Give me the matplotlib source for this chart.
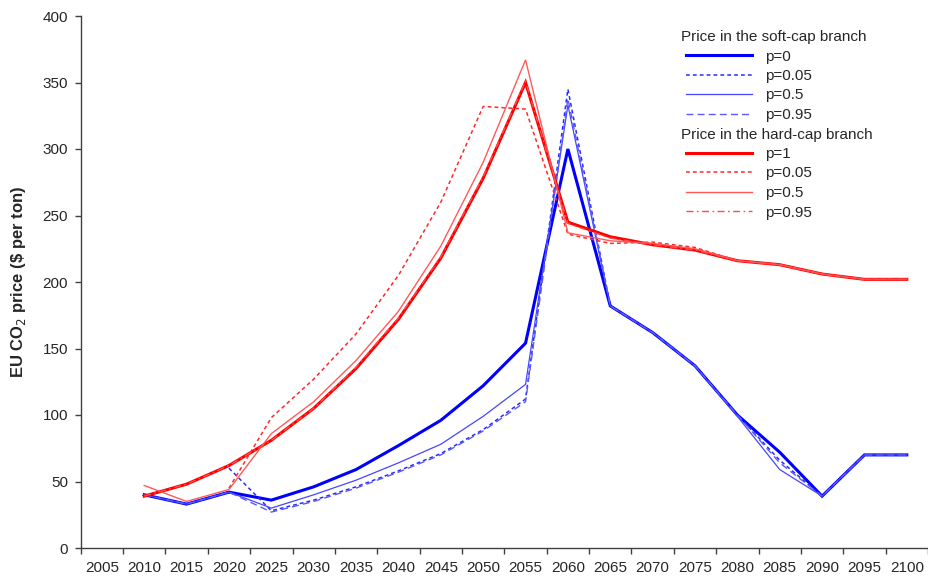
import numpy as np
import matplotlib
matplotlib.use("Agg")
import matplotlib.pyplot as plt
from matplotlib.lines import Line2D

plt.rcParams['font.family'] = ['Liberation Sans', 'DejaVu Sans']

nan = np.nan

# Category axis: 2005 ... 2100 in five-year steps
categories = list(range(2005, 2101, 5))
years = list(range(2010, 2101, 5))

# Soft-cap branch prices ($ per ton)
soft_p0 = [40, 33, 42, 36, 46, 59, 77, 96, 122, 154, 300, 182, 162, 137, 100, 72, 39, 70, 70]
soft_p005 = [nan, nan, 60, 28, 36, 46, 58, 71, 89, 112, 345, 182, 162, 137, 100, 66, 39, 70, 70]
soft_p05 = [40, 33, 42, 30, 40, 51, 64, 78, 99, 123, 333, 182, 162, 137, 99, 59, 39, 70, 70]
soft_p095 = [40, 33, 42, 27, 35, 45, 57, 70, 88, 110, 338, 182, 162, 137, 100, 64, 39, 70, 70]

# Hard-cap branch prices ($ per ton)
hard_p1 = [39, 48, 62, 81, 105, 135, 172, 218, 278, 350, 245, 234, 228, 224, 216, 213, 206, 202, 202]
hard_p005 = [nan, nan, 45, 98, 127, 161, 205, 260, 332, 330, 236, 229, 230, 226, 216, 213, 206, 202, 202]
hard_p05 = [47, 35, 44, 86, 110, 141, 178, 227, 290, 367, 237, 231, 229, 225, 216, 213, 206, 202, 202]
hard_p095 = [39, 48, 62, 81, 105, 136, 173, 219, 279, 351, 244, 233, 228, 224, 216, 213, 206, 202, 202]

W, H = 929, 583
fig = plt.figure(figsize=(W / 100, H / 100), dpi=100)
ax = fig.add_axes([80.7 / W, 1 - 548 / H, (928 - 80.7) / W, (548 - 16) / H])

BLUE = '#0000ff'
RED = '#ff0000'

styles = [
    (soft_p0, 'p=0', dict(color=BLUE, lw=2.2, ls='-')),
    (soft_p005, 'p=0.05', dict(color='#2a2aff', lw=1.1, ls=(0, (2.5, 2)))),
    (soft_p05, 'p=0.5', dict(color='#4646ff', lw=0.9, ls='-')),
    (soft_p095, 'p=0.95', dict(color='#5a5aff', lw=1.0, ls=(0, (5, 3)))),
    (hard_p1, 'p=1', dict(color=RED, lw=2.2, ls='-')),
    (hard_p005, 'p=0.05', dict(color='#ff2a2a', lw=1.1, ls=(0, (2.5, 2)))),
    (hard_p05, 'p=0.5', dict(color='#ff5a5a', lw=1.0, ls='-')),
    (hard_p095, 'p=0.95', dict(color='#ff4a4a', lw=1.0, ls=(0, (5, 2.5, 1.2, 2.5)))),
]

handles = []
for vals, lab, kw in styles:
    ln, = ax.plot(years, vals, solid_joinstyle='miter', dash_capstyle='butt', **kw)
    handles.append(ln)

ax.set_xlim(2002.5, 2102.5)
ax.set_ylim(0, 400)

# tick marks sit on the category boundaries, labels in between
ax.set_xticks(np.arange(2002.5, 2103, 5))
ax.set_xticklabels([])
ax.set_xticks(categories, minor=True)
ax.set_xticklabels([str(c) for c in categories], minor=True)
ax.tick_params(axis='x', which='major', direction='out', length=4, width=1, color='#404040')
ax.tick_params(axis='x', which='minor', length=0, pad=9, labelsize=11, labelcolor='#262626')
ax.set_yticks(np.arange(0, 401, 50))
ax.tick_params(axis='y', direction='out', length=4, width=1, color='#404040',
               pad=5, labelsize=11, labelcolor='#262626')

for side in ('top', 'right'):
    ax.spines[side].set_visible(False)
for side in ('left', 'bottom'):
    ax.spines[side].set_color('#404040')
    ax.spines[side].set_linewidth(1)

ax.set_ylabel(r'EU CO$_2$ price (\$ per ton)', fontsize=12, fontweight='bold', color='#262626')
ax.yaxis.set_label_coords(-0.062, 0.5)

blank = Line2D([], [], color='none')
leg_handles = [blank] + handles[:4] + [blank] + handles[4:]
leg_labels = (['Price in the soft-cap branch'] + [s[1] for s in styles[:4]]
              + ['Price in the hard-cap branch'] + [s[1] for s in styles[4:]])
leg = ax.legend(leg_handles, leg_labels, loc='upper left',
                bbox_to_anchor=(686 / W, 1 - 30 / H), bbox_transform=fig.transFigure,
                frameon=False, fontsize=11, handlelength=4.3, handletextpad=0.87,
                labelspacing=0.36, borderpad=0, borderaxespad=0)
texts = leg.get_texts()
for i in (0, 5):
    texts[i].set_x(-84)
for t in texts:
    t.set_color('#262626')

fig.savefig('out.png', dpi=100)
